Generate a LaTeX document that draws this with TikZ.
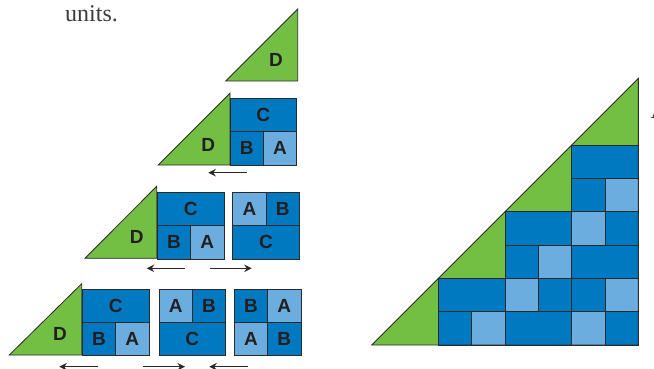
\documentclass[tikz,border=0pt]{standalone}
\usepackage{fontspec}
\usetikzlibrary{arrows.meta}
\newfontfamily\labfont{Liberation Sans}
\newfontfamily\txtfont{Liberation Serif}
\definecolor{greenT}{HTML}{72BF44}
\definecolor{dkB}{HTML}{0079C1}
\definecolor{ltB}{HTML}{6CADDF}
\definecolor{lineC}{HTML}{2A2A2A}
\definecolor{letC}{HTML}{231F20}
\definecolor{txtC}{HTML}{3C3C3C}
\newcommand{\mkCBA}[3]{%
  \node[dk,wide,anchor=north west] (#3c) at (#1,#2) {C};
  \node[dk,sq,anchor=north west] (#3b) at (#1,#2+33.333) {B};
  \node[lt,sq,anchor=north west] (#3a) at (#1+33.333,#2+33.333) {A};
}
\newcommand{\mkABC}[3]{%
  \node[lt,sq,anchor=north west] (#3a) at (#1,#2) {A};
  \node[dk,sq,anchor=north west] (#3b) at (#1+33.333,#2) {B};
  \node[dk,wide,anchor=north west] (#3c) at (#1,#2+33.333) {C};
}
\newcommand{\mkBAAB}[3]{%
  \node[dk,sq,anchor=north west] (#3b) at (#1,#2) {B};
  \node[lt,sq,anchor=north west] (#3a) at (#1+33.333,#2) {A};
  \node[lt,sq,anchor=north west] (#3aa) at (#1,#2+33.333) {A};
  \node[dk,sq,anchor=north west] (#3bb) at (#1+33.333,#2+33.333) {B};
}
\tikzset{
  cell/.style={draw=lineC,line width=0.8pt,inner sep=0pt,outer sep=0pt,
    text=letC,font=\labfont\bfseries\fontsize{19}{19}\selectfont},
  dk/.style={cell,fill=dkB},
  lt/.style={cell,fill=ltB},
  sq/.style={minimum width=33.333pt,minimum height=33.333pt},
  wide/.style={minimum width=66.667pt,minimum height=33.333pt},
  tri/.style={fill=greenT,draw=lineC,line width=0.8pt,line join=miter},
  dlab/.style={inner sep=0pt,text=letC,font=\labfont\bfseries\fontsize{19}{19}\selectfont},
  arr/.style={draw=lineC,line width=1.2pt,-{Stealth[length=7.5pt,width=7.5pt]}},
  bigcell/.style={draw=lineC,line width=0.8pt},
}
\begin{document}
\begin{tikzpicture}[x=1pt,y=-1pt]
\clip (0,0) rectangle (654,369);
\fill[white] (0,0) rectangle (654,369);

% text fragments
\node[anchor=base west,inner sep=0pt,text=txtC,font=\txtfont\fontsize{24}{24}\selectfont] (units) at (65,21.7) {units.};
\node[anchor=base west,inner sep=0pt,text=txtC,font=\txtfont\fontsize{24}{24}\selectfont] (cutA) at (650.5,119) {A};

% row 1: D alone
\draw[tri] (225.7,81) -- (297.7,9) -- (297.7,81) -- cycle;
\node[dlab] (d1) at (276,60) {D};

% row 2
\draw[tri] (158.3,165) -- (230,93.3) -- (230,165) -- cycle;
\node[dlab] (d2) at (208.3,145) {D};
\mkCBA{230}{98.3}{r2}
\coordinate (r2s) at (246.7,172.7);
\coordinate (r2e) at (208.3,172.7);
\draw[arr] (r2s) -- (r2e);

% row 3
\draw[tri] (85,258.3) -- (156.7,186.3) -- (156.7,258.3) -- cycle;
\node[dlab] (d3) at (136.7,236.7) {D};
\mkCBA{157.3}{192.3}{r3p}
\mkABC{232.7}{192.3}{r3q}
\coordinate (r3s1) at (185,268.3);
\coordinate (r3e1) at (146.7,268.3);
\coordinate (r3s2) at (210,268.3);
\coordinate (r3e2) at (251.7,268.3);
\draw[arr] (r3s1) -- (r3e1);
\draw[arr] (r3s2) -- (r3e2);

% row 4
\draw[tri] (9.3,355) -- (81.7,283.7) -- (81.7,355) -- cycle;
\node[dlab] (d4) at (60,334) {D};
\mkCBA{82.3}{289}{r4p}
\mkABC{159}{289}{r4q}
\mkBAAB{234.3}{289}{r4r}
\coordinate (r4s1) at (98.3,366.7);
\coordinate (r4e1) at (59.3,366.7);
\coordinate (r4s2) at (143.3,366.7);
\coordinate (r4e2) at (185,366.7);
\coordinate (r4s3) at (248.3,366.7);
\coordinate (r4e3) at (209.3,366.7);
\draw[arr] (r4s1) -- (r4e1);
\draw[arr] (r4s2) -- (r4e2);
\draw[arr] (r4s3) -- (r4e3);

% big staircase triangle
\begin{scope}[shift={(371.7pt,-345pt)},x=33.333pt,y=33.333pt]
  \fill[greenT] (0,0) -- (8,0) -- (8,8) -- cycle;
  % row 0
  \filldraw[bigcell,fill=dkB] (2,0) rectangle (3,1);
  \filldraw[bigcell,fill=ltB] (3,0) rectangle (4,1);
  \filldraw[bigcell,fill=dkB] (4,0) rectangle (6,1);
  \filldraw[bigcell,fill=ltB] (6,0) rectangle (7,1);
  \filldraw[bigcell,fill=dkB] (7,0) rectangle (8,1);
  % row 1
  \filldraw[bigcell,fill=dkB] (2,1) rectangle (4,2);
  \filldraw[bigcell,fill=ltB] (4,1) rectangle (5,2);
  \filldraw[bigcell,fill=dkB] (5,1) rectangle (6,2);
  \filldraw[bigcell,fill=dkB] (6,1) rectangle (7,2);
  \filldraw[bigcell,fill=ltB] (7,1) rectangle (8,2);
  % row 2
  \filldraw[bigcell,fill=dkB] (4,2) rectangle (5,3);
  \filldraw[bigcell,fill=ltB] (5,2) rectangle (6,3);
  \filldraw[bigcell,fill=dkB] (6,2) rectangle (8,3);
  % row 3
  \filldraw[bigcell,fill=dkB] (4,3) rectangle (6,4);
  \filldraw[bigcell,fill=ltB] (6,3) rectangle (7,4);
  \filldraw[bigcell,fill=dkB] (7,3) rectangle (8,4);
  % row 4
  \filldraw[bigcell,fill=dkB] (6,4) rectangle (7,5);
  \filldraw[bigcell,fill=ltB] (7,4) rectangle (8,5);
  % row 5
  \filldraw[bigcell,fill=dkB] (6,5) rectangle (8,6);
  % green step edges and outline
  \draw[bigcell] (2,0) -- (2,2) (4,2) -- (4,4) (6,4) -- (6,6);
  \draw[bigcell,line join=miter] (0,0) -- (8,0) -- (8,8) -- cycle;
\end{scope}
\end{tikzpicture}
\end{document}
